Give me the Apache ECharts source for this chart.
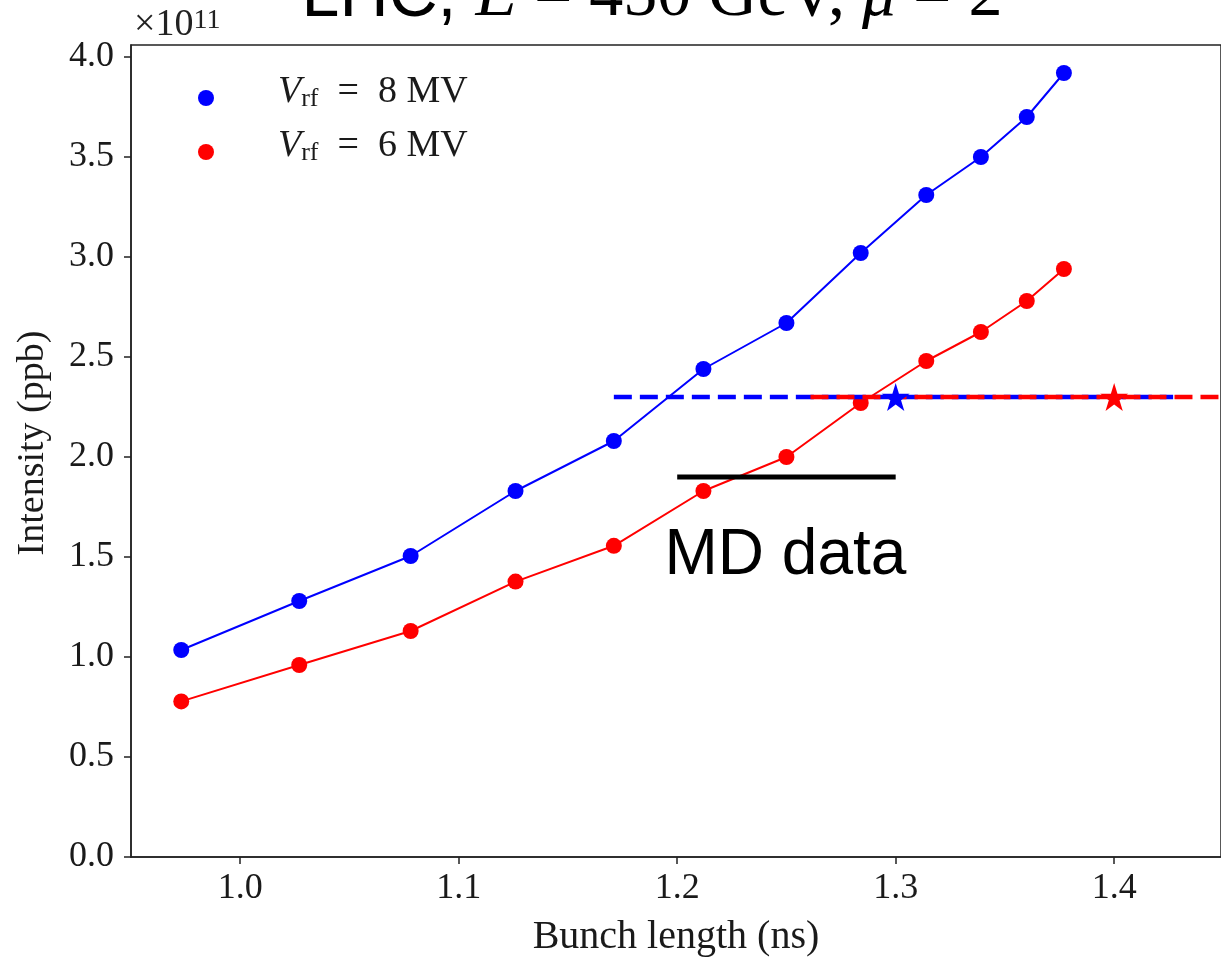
<!DOCTYPE html>
<html>
<head>
<meta charset="utf-8">
<script src="https://cdn.jsdelivr.net/npm/echarts@6/dist/echarts.min.js"></script>
<style>
  html, body { margin: 0; padding: 0; background: #fff; overflow: hidden; }
  #chart { width: 1221px; height: 962px; }
</style>
</head>
<body>
<div id="chart"></div>
<script>
// Bunch length (ns) of each simulated point, shared by both RF voltages
const bunchLength = [0.973, 1.027, 1.078, 1.126, 1.171, 1.212, 1.250, 1.284, 1.314, 1.339, 1.360, 1.377];
// Intensity threshold (units of 1e11 ppb)
const intensity8MV = [1.035, 1.28, 1.505, 1.83, 2.08, 2.44, 2.67, 3.02, 3.31, 3.50, 3.70, 3.92];
const intensity6MV = [0.778, 0.96, 1.13, 1.377, 1.556, 1.83, 2.00, 2.27, 2.48, 2.625, 2.78, 2.94];

// Target intensity lines and operating points
const targetIntensity = 2.3;
const target8MVSpan = [1.171, 1.427];
const target6MVSpan = [1.261, 1.47];
const target8MVBunch = 1.3;
const target6MVBunch = 1.4;

// Measured (MD) range
const mdBunchSpan = [1.2, 1.3];
const mdIntensity = 1.9;

// Axis ticks
const xTicks = [1.0, 1.1, 1.2, 1.3, 1.4];
const yTicks = [0.0, 0.5, 1.0, 1.5, 2.0, 2.5, 3.0, 3.5, 4.0];

const seriesNames = ['Vrf = 8 MV', 'Vrf = 6 MV'];
const BLUE = '#0000ff';
const RED = '#ff0000';
const INK = '#1a1a1a';
const SERIF = '"Liberation Serif", "DejaVu Serif", serif';
const SANS = '"Liberation Sans", Arial, sans-serif';
const STAR = 'path://M50,0 L61.2,34.5 L97.6,34.5 L68.2,55.9 L79.4,90.5 L50,69.1 L20.6,90.5 L31.8,55.9 L2.4,34.5 L38.8,34.5 Z';

const pairs = (xs, ys) => xs.map((x, i) => [x, ys[i]]);
const hLine = (span, y) => span.map(x => [x, y]);

const chart = echarts.init(document.getElementById('chart'), null, { renderer: 'canvas' });

const option = {
  backgroundColor: '#ffffff',
  animation: false,
  grid: {
    left: 131, right: -3, top: 45, bottom: 103,
    show: true, borderColor: '#222', borderWidth: 1.5, backgroundColor: 'transparent'
  },
  legend: {
    data: seriesNames,
    orient: 'vertical',
    left: 193, top: 68,
    icon: 'circle',
    itemWidth: 134, itemHeight: 16,
    itemGap: 15,
    selectedMode: false,
    itemStyle: { borderWidth: 0 },
    formatter: name => {
      const value = name.split(' = ')[1];
      return '{v|V}{s|rf}{t|  =  ' + value + '}';
    },
    textStyle: {
      padding: [0, 0, 12, 0],
      rich: {
        v: { fontFamily: SERIF, fontStyle: 'italic', fontSize: 38, lineHeight: 40, color: INK },
        s: { fontFamily: SERIF, fontSize: 26, lineHeight: 22, verticalAlign: 'bottom', color: INK },
        t: { fontFamily: SERIF, fontSize: 38, lineHeight: 40, color: INK }
      }
    }
  },
  xAxis: {
    type: 'value',
    min: 0.95, max: 1.4489,
    name: 'Bunch length (ns)',
    nameLocation: 'middle',
    nameGap: 60,
    nameTextStyle: { fontFamily: SERIF, fontSize: 40, color: INK },
    axisLine: { show: true, onZero: false, lineStyle: { color: '#222', width: 1.5 } },
    axisTick: { show: true, inside: false, length: 7, customValues: xTicks, lineStyle: { color: '#222', width: 1.5 } },
    axisLabel: {
      customValues: xTicks, margin: 14,
      formatter: v => v.toFixed(1),
      fontFamily: SERIF, fontSize: 36, color: INK
    },
    splitLine: { show: false }
  },
  yAxis: {
    type: 'value',
    min: 0, max: 4.06,
    name: 'Intensity (ppb)',
    nameLocation: 'middle',
    nameGap: 79,
    nameTextStyle: { fontFamily: SERIF, fontSize: 38, color: INK, padding: [0, 0, 0, 16] },
    axisLine: { show: true, lineStyle: { color: '#222', width: 1.5 } },
    axisTick: { show: true, inside: false, length: 7, customValues: yTicks, lineStyle: { color: '#222', width: 1.5 } },
    axisLabel: {
      customValues: yTicks, margin: 17,
      formatter: v => v.toFixed(1),
      fontFamily: SERIF, fontSize: 36, color: INK
    },
    splitLine: { show: false }
  },
  series: [
    {
      name: seriesNames[0],
      type: 'line',
      data: pairs(bunchLength, intensity8MV),
      symbol: 'circle', symbolSize: 16,
      lineStyle: { color: BLUE, width: 2 },
      itemStyle: { color: BLUE },
      z: 3
    },
    {
      name: seriesNames[1],
      type: 'line',
      data: pairs(bunchLength, intensity6MV),
      symbol: 'circle', symbolSize: 16,
      lineStyle: { color: RED, width: 2 },
      itemStyle: { color: RED },
      z: 3
    },
    {
      name: 'target 8 MV',
      type: 'line',
      data: hLine(target8MVSpan, targetIntensity),
      showSymbol: false, symbol: 'none',
      lineStyle: { color: BLUE, width: 4.5, type: [18, 8] },
      z: 4
    },
    {
      name: 'target 6 MV',
      type: 'line',
      data: hLine(target6MVSpan, targetIntensity),
      showSymbol: false, symbol: 'none',
      lineStyle: { color: RED, width: 4.5, type: [18, 8] },
      z: 5
    },
    {
      name: 'point 8 MV',
      type: 'scatter',
      data: [[target8MVBunch, targetIntensity]],
      symbol: STAR, symbolSize: 28,
      itemStyle: { color: BLUE, opacity: 1 },
      z: 6
    },
    {
      name: 'point 6 MV',
      type: 'scatter',
      data: [[target6MVBunch, targetIntensity]],
      symbol: STAR, symbolSize: 28,
      itemStyle: { color: RED, opacity: 1 },
      z: 6
    },
    {
      name: 'MD data',
      type: 'line',
      data: hLine(mdBunchSpan, mdIntensity),
      showSymbol: false, symbol: 'none',
      lineStyle: { color: '#000', width: 5, cap: 'butt' },
      z: 7
    }
  ]
};

chart.setOption(option);

// Annotation text placed relative to the MD range
const mdCenter = chart.convertToPixel({ gridIndex: 0 }, [(mdBunchSpan[0] + mdBunchSpan[1]) / 2, mdIntensity]);

chart.setOption({
  graphic: [
    {
      type: 'text',
      x: 652, y: -3,
      style: {
        text: '{a|LHC, }{e|E}{b| = 450 GeV, }{e|μ}{b| = 2}',
        align: 'center', verticalAlign: 'middle',
        rich: {
          a: { fontFamily: SANS, fontSize: 68, lineHeight: 68, fill: '#000' },
          e: { fontFamily: SERIF, fontStyle: 'italic', fontSize: 68, lineHeight: 68, fill: '#000' },
          b: { fontFamily: SERIF, fontSize: 68, lineHeight: 68, fill: '#000' }
        }
      },
      z: 10
    },
    {
      type: 'text',
      x: 134, y: 25,
      style: {
        text: '{a|×10}{s|11}',
        align: 'left', verticalAlign: 'middle',
        rich: {
          a: { fontFamily: SERIF, fontSize: 38, lineHeight: 36, fill: '#222' },
          s: { fontFamily: SERIF, fontSize: 28, lineHeight: 12, verticalAlign: 'top', fill: '#222' }
        }
      },
      z: 10
    },
    {
      type: 'text',
      x: mdCenter[0] - 1, y: mdCenter[1] + 79,
      style: {
        text: 'MD data',
        align: 'center', verticalAlign: 'middle',
        fontFamily: SANS, fontSize: 64, fill: '#000'
      },
      z: 10
    }
  ]
});
</script>
</body>
</html>
